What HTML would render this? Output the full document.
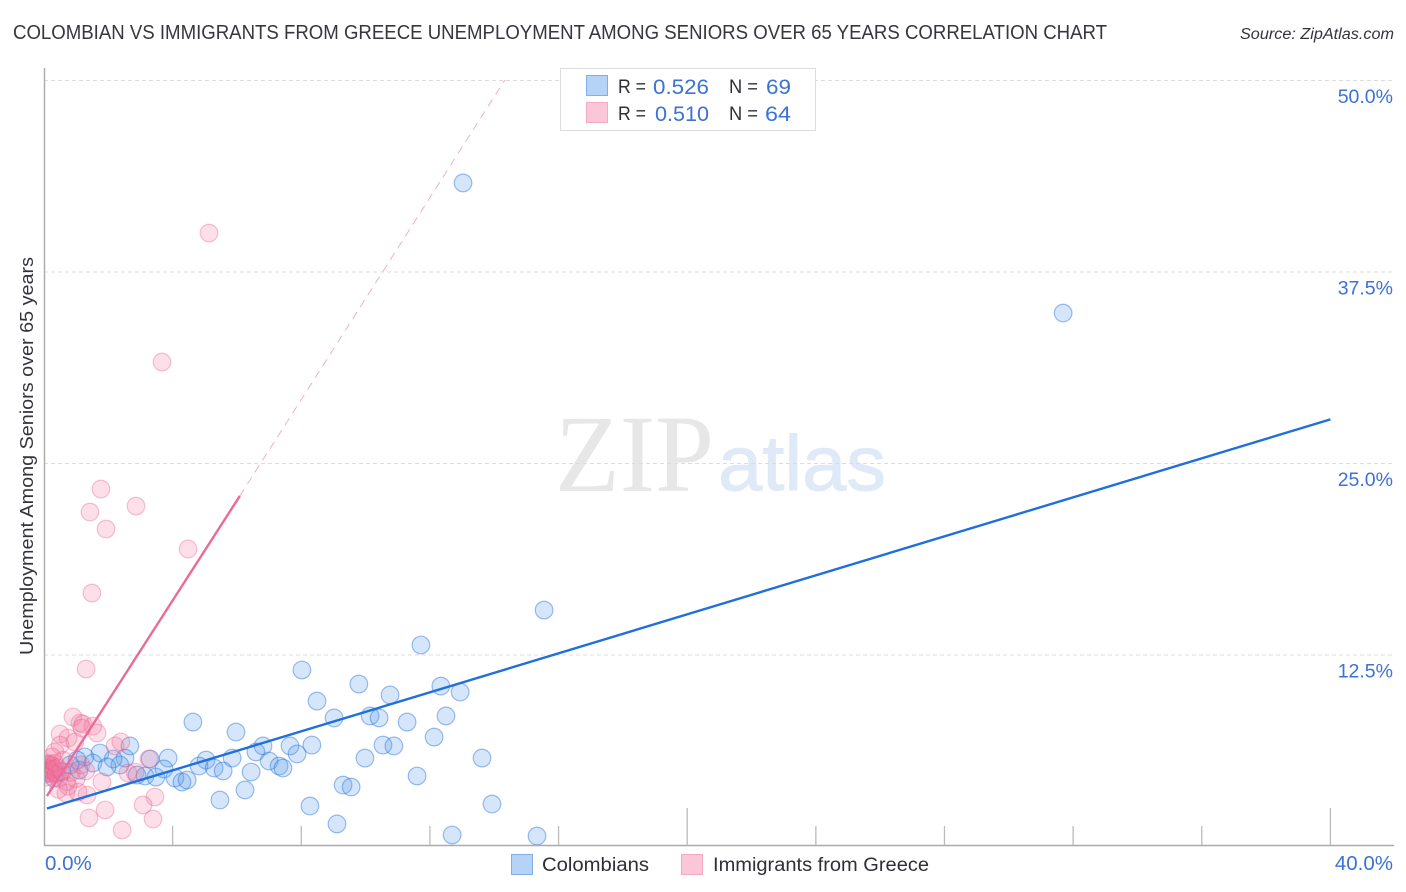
<!DOCTYPE html>
<html lang="en">
<head>
<meta charset="utf-8">
<title>Colombian vs Immigrants from Greece Unemployment Among Seniors Over 65 Years Correlation Chart</title>
<style>
html,body{margin:0;padding:0;background:#fff;width:1406px;height:892px;overflow:hidden}
svg{display:block;font-family:"Liberation Sans",sans-serif}
</style>
</head>
<body>
<svg id="chart" width="1406" height="892" viewBox="0 0 1406 892">
  <defs><clipPath id="plotClip"><rect x="45" y="60" width="1350" height="785"/></clipPath></defs>
  <text x="13" y="39" font-size="20" fill="#36363e" textLength="1094" lengthAdjust="spacingAndGlyphs">COLOMBIAN VS IMMIGRANTS FROM GREECE UNEMPLOYMENT AMONG SENIORS OVER 65 YEARS CORRELATION CHART</text>
  <text x="1394" y="39" font-size="15.5" font-style="italic" fill="#33333b" text-anchor="end" textLength="154" lengthAdjust="spacingAndGlyphs">Source: ZipAtlas.com</text>
  <text x="555" y="491" font-family="'Liberation Serif',serif" font-size="110" fill="#e7e7e7" textLength="159" lengthAdjust="spacingAndGlyphs">ZIP</text>
  <text x="718" y="490" font-size="78" fill="#dfe9f8" stroke="#dfe9f8" stroke-width="1" textLength="168" lengthAdjust="spacingAndGlyphs">atlas</text>
  <g id="grid"></g>
  <g id="axes"></g>
  <g clip-path="url(#plotClip)">
    <g id="bluePoints"></g>
    <g id="pinkPoints"></g>
  </g>
  <g id="trends"></g>
  <g id="labels"></g>
  <text transform="translate(33,456) rotate(-90)" font-size="18.5" fill="#33333b" text-anchor="middle" textLength="398" lengthAdjust="spacingAndGlyphs">Unemployment Among Seniors over 65 years</text>

  <g>
    <rect x="560.5" y="68.5" width="255" height="62" fill="#fff" stroke="#dddddd"/>
    <rect x="586.5" y="75.5" width="21" height="20" fill="#b5d2f7" stroke="#82ade6"/>
    <rect x="586.5" y="102.5" width="21" height="20" fill="#fcc6d9" stroke="#f5a9c3"/>
    <g font-size="19" fill="#2f2f36">
      <text x="618" y="93" textLength="28" lengthAdjust="spacingAndGlyphs">R =</text>
      <text x="729" y="93" textLength="29" lengthAdjust="spacingAndGlyphs">N =</text>
      <text x="618" y="120" textLength="28" lengthAdjust="spacingAndGlyphs">R =</text>
      <text x="729" y="120" textLength="29" lengthAdjust="spacingAndGlyphs">N =</text>
    </g>
    <g font-size="21" fill="#3c72d6">
      <text x="653" y="94" textLength="56" lengthAdjust="spacingAndGlyphs">0.526</text>
      <text x="766" y="94" textLength="25" lengthAdjust="spacingAndGlyphs">69</text>
      <text x="655" y="121" textLength="54" lengthAdjust="spacingAndGlyphs">0.510</text>
      <text x="765" y="121" textLength="26" lengthAdjust="spacingAndGlyphs">64</text>
    </g>
  </g>

  <g>
    <rect x="511.5" y="854.5" width="21" height="20" fill="#b5d2f7" stroke="#82ade6"/>
    <text x="542" y="871" font-size="19" fill="#2f2f36" textLength="107" lengthAdjust="spacingAndGlyphs">Colombians</text>
    <rect x="681.5" y="854.5" width="21" height="20" fill="#fcc6d9" stroke="#f5a9c3"/>
    <text x="713" y="871" font-size="19" fill="#2f2f36" textLength="216" lengthAdjust="spacingAndGlyphs">Immigrants from Greece</text>
  </g>
</svg>
<script>
const blueX = [13.03,31.69,15.55,11.72,8.02,9.79,12.34,12.94,10.76,8.49,9.02,10.14,10.42,11.29,12.50,4.63,5.97,12.13,6.81,7.65,8.33,10.54,10.88,2.67,1.74,2.52,3.86,3.30,5.04,5.85,7.87,9.98,13.62,6.59,4.82,7.00,7.31,7.43,5.29,5.57,6.44,11.60,2.89,3.14,3.48,3.73,4.07,4.29,4.45,9.30,9.55,6.25,5.47,8.27,13.93,9.11,12.69,15.33,1.27,2.15,1.52,1.03,2.36,1.96,1.09,0.19,0.31,0.56,0.81];
const blueY = [43.28,34.79,15.40,13.12,11.49,10.57,10.44,10.05,9.86,9.46,8.36,8.49,8.36,8.09,8.49,8.09,7.44,7.11,6.53,6.53,6.59,6.59,6.53,6.53,6.07,5.74,5.74,5.68,5.61,5.74,6.01,5.74,5.74,6.14,5.22,5.55,5.22,5.09,5.09,4.90,4.83,4.57,4.63,4.57,4.50,5.03,4.44,4.18,4.31,3.98,3.85,3.66,3.00,2.61,2.74,1.44,0.72,0.65,5.81,5.68,5.42,5.61,5.29,5.16,4.96,4.96,4.44,4.83,5.29];
const pinkX = [5.13,3.67,1.77,2.86,1.43,1.93,4.48,1.49,1.31,0.90,1.12,1.21,1.52,1.65,0.50,1.18,0.75,0.50,0.96,2.39,2.21,0.34,0.25,3.26,2.83,2.61,1.80,1.34,0.68,1.06,3.45,3.08,1.90,1.40,3.39,2.43,0.02,0.04,0.06,0.08,0.10,0.12,0.14,0.16,0.18,0.20,0.22,0.25,0.28,0.31,0.34,0.38,0.42,0.46,0.52,0.60,0.70,0.85,1.00,1.15,1.30,0.75,0.45,0.05];
const pinkY = [40.01,31.59,23.30,22.19,21.80,20.69,19.39,16.51,11.55,8.42,8.03,7.96,7.83,7.38,7.31,7.70,7.05,6.59,6.79,6.79,6.53,6.14,5.81,5.68,4.83,4.77,4.18,3.33,3.46,3.52,3.20,2.68,2.35,1.83,1.76,1.04,5.20,4.90,5.40,4.70,5.10,4.80,5.30,5.00,4.75,5.35,4.95,5.20,4.85,5.05,5.40,4.70,5.10,4.40,4.90,5.60,4.20,4.80,4.40,5.30,4.90,3.90,3.70,4.50];
const blueTrend = [0.09, 2.45, 40, 27.85];
const pinkTrendSolid = [0.09, 3.26, 6.09, 22.85];
const pinkTrendDashed = [6.09, 22.85, 14.33, 50];
const yTicks = [12.5, 25, 37.5, 50];
const yTickLabels = ["12.5%", "25.0%", "37.5%", "50.0%"];
const xTicks = [4, 8, 12, 16, 20, 24, 28, 32, 36, 40];
const xMajorTicks = [20, 40];
const xEndLabels = ["0.0%", "40.0%"];

const sx = v => 44 + v * 32.16;
const sy = v => 846 - v * 15.32;
const NS = "http://www.w3.org/2000/svg";
function make(parent, tag, attrs, text) {
  const el = document.createElementNS(NS, tag);
  for (const k in attrs) el.setAttribute(k, attrs[k]);
  if (text !== undefined) el.textContent = text;
  document.getElementById(parent).appendChild(el);
  return el;
}

yTicks.forEach((t, i) => {
  const line = make("grid", "line", {x1: 44, x2: 1394, y1: sy(t) + 0.5, y2: sy(t) + 0.5, stroke: "#dcdcdc", "stroke-width": 1, "stroke-dasharray": "4 3"});
  
  
  const label = make("labels", "text", {x: 1393, y: sy(t) + 23, "font-size": 19.5, fill: "#3c72d6", "text-anchor": "end"}, yTickLabels[i]);
  
  
});

const yAxis = make("axes", "line", {x1: 44.5, x2: 44.5, y1: 68, y2: 846, stroke: "#aaaaaa", "stroke-width": 1.4});


const xAxis = make("axes", "line", {x1: 44, x2: 1394, y1: 845.5, y2: 845.5, stroke: "#aaaaaa", "stroke-width": 1.4});


xTicks.forEach(t => {
  const top = xMajorTicks.includes(t) ? 808 : 826;
  const tick = make("axes", "line", {x1: sx(t), x2: sx(t), y1: top, y2: 845, stroke: "#bbbbbb", "stroke-width": 1.3});
  
  
});

const xLabel0 = make("labels", "text", {x: 45, y: 870, "font-size": 20.5, fill: "#3c72d6"}, xEndLabels[0]);


const xLabel1 = make("labels", "text", {x: 1393, y: 870, "font-size": 20.5, fill: "#3c72d6", "text-anchor": "end"}, xEndLabels[1]);



blueX.forEach((v, i) => {
  const c = make("bluePoints", "circle", {cx: sx(v), cy: sy(blueY[i]), r: 8.8, fill: "rgba(90,155,235,0.25)", stroke: "rgba(40,115,220,0.46)", "stroke-width": 1.2});
  
  
});
pinkX.forEach((v, i) => {
  const c = make("pinkPoints", "circle", {cx: sx(v), cy: sy(pinkY[i]), r: 8.8, fill: "rgba(242,120,160,0.24)", stroke: "rgba(236,90,140,0.36)", "stroke-width": 1.2});
  
  
});

function trend(seg, color, width, dash, name) {
  const attrs = {x1: sx(seg[0]), y1: sy(seg[1]), x2: sx(seg[2]), y2: sy(seg[3]), stroke: color, "stroke-width": width};
  if (dash) attrs["stroke-dasharray"] = dash;
  const l = make("trends", "line", attrs);
  
  
}
trend(pinkTrendDashed, "#eeb0c6", 1, "8 6", "greece-trend-extrapolated");
trend(pinkTrendSolid, "#ec6a98", 2.4, null, "greece-trend-line");
trend(blueTrend, "#1f6fdc", 2.4, null, "colombians-trend-line");
</script>
</body>
</html>
